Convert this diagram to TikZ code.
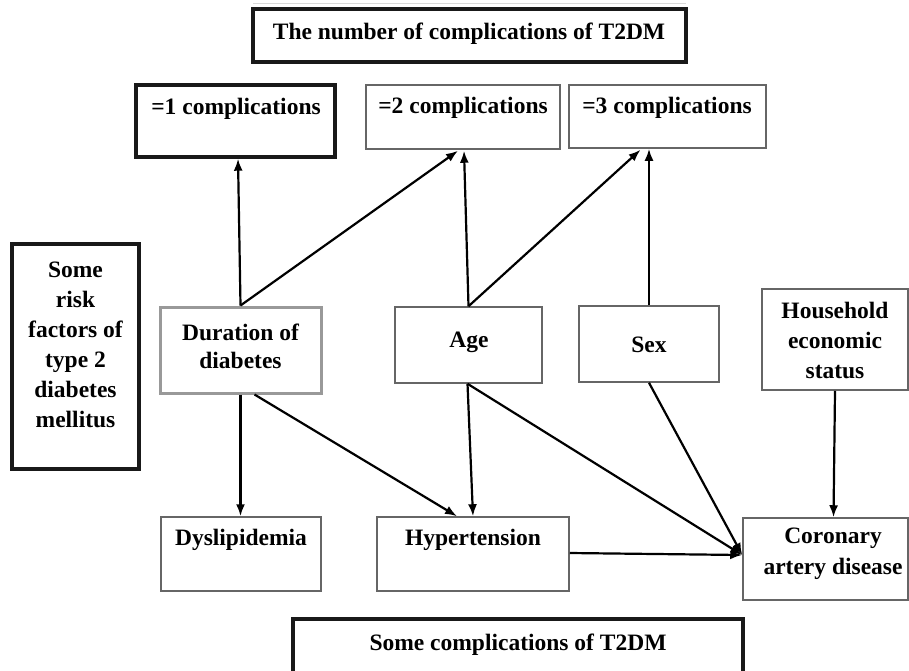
\documentclass[tikz,border=0pt]{standalone}
\usepackage{fontspec}
\setmainfont{Liberation Serif}
\usetikzlibrary{arrows.meta,calc}
\tikzset{
  thinbox/.style={draw=black!60,line width=1.5pt,rectangle,inner sep=0pt},
  thickbox/.style={draw=black!90,line width=3.4pt,rectangle,inner sep=0pt},
  graybox/.style={draw=black!40,line width=3pt,rectangle,inner sep=0pt},
  lbl/.style={font=\bfseries\fontsize{23.5}{29}\selectfont,align=center,inner sep=0pt},
  conn/.style={line width=2.2pt,-{Latex[length=12pt,width=9pt]}},
}
\newcommand{\boxat}[6]{\node[#1,minimum width=#4pt-#2pt,minimum height=#5pt-#3pt] (#6) at ({(#2+#4)/2},{(#3+#5)/2}) {};}
\begin{document}
\begin{tikzpicture}[x=1pt,y=-1pt]
\useasboundingbox (0,0) rectangle (909,670);
\clip (0,0) rectangle (909,670);
\fill[white] (0,0) rectangle (909,670);
\draw[black!15,line width=1pt] (253,3) -- (686,3);
% boxes
\boxat{thickbox}{253}{9}{686}{62}{title}
\boxat{thickbox}{136}{85}{335}{157}{one}
\boxat{thinbox}{366}{85}{560}{149}{two}
\boxat{thinbox}{569}{85}{766}{148}{three}
\boxat{thickbox}{12}{244}{139}{469}{risk}
\boxat{graybox}{160}{307}{321}{393}{dur}
\boxat{thinbox}{395}{307}{542}{383}{age}
\boxat{thinbox}{579}{306}{719}{382}{sex}
\boxat{thinbox}{762}{289}{908}{390}{house}
\boxat{thinbox}{161}{517}{321}{591}{dys}
\boxat{thinbox}{377}{517}{569}{591}{hyp}
\boxat{thinbox}{743}{518}{908}{600}{cad}
\boxat{thickbox}{293}{619}{743}{700}{bottom}
% texts
\node[lbl] (ttitle) at (469,34) {The number of complications of T2DM};
\node[lbl] (tone) at (236,109) {=1 complications};
\node[lbl] (ttwo) at (463,108) {=2 complications};
\node[lbl] (tthree) at (667,108) {=3 complications};
\node[lbl,font=\bfseries\fontsize{23.5}{30}\selectfont] (trisk) at (75.5,345) {Some\\risk\\factors of\\type 2\\diabetes\\mellitus};
\node[lbl,font=\bfseries\fontsize{23.5}{28}\selectfont] (tdur) at (240.5,346) {Duration of\\diabetes};
\node[lbl] (tage) at (469,342) {Age};
\node[lbl] (tsex) at (649,345) {Sex};
\node[lbl,font=\bfseries\fontsize{23.5}{30}\selectfont] (thouse) at (835,340) {Household\\economic\\status};
\node[lbl] (tdys) at (241,540) {Dyslipidemia};
\node[lbl] (thyp) at (473,540) {Hypertension};
\node[lbl,font=\bfseries\fontsize{23.5}{31}\selectfont] (tcad) at (833,554) {Coronary\\artery disease};
\node[lbl] (tbottom) at (518,645) {Some complications of T2DM};
% connectors
\coordinate (cadin) at ($(cad.west)+(0,-4)$);
\draw[conn] (dur.north) -- ($(one.south)+(2.5,0)$);
\draw[conn] (dur.north) -- ($(two.south)+(-5,1)$);
\draw[conn] (age.north) -- ($(two.south)+(1,1)$);
\draw[conn] (age.north) -- ($(three.south)+(-27,1)$);
\draw[conn] (sex.north) -- (sex.north |- three.south);
\draw[conn] (dur.south) -- (dur.south |- dys.north);
\draw[conn] ($(dur.south)+(14,0)$) -- ($(hyp.north)+(-16,0)$);
\draw[conn] ($(age.south)+(-1,0)$) -- (hyp.north);
\draw[conn] ($(age.south)+(-1,0)$) -- (cadin);
\draw[conn] (sex.south) -- (cadin);
\draw[conn] ($(hyp.east)+(0,-1)$) -- (cadin);
\draw[conn] (house.south) -- ($(cad.north)+(8,0)$);
\end{tikzpicture}
\end{document}
